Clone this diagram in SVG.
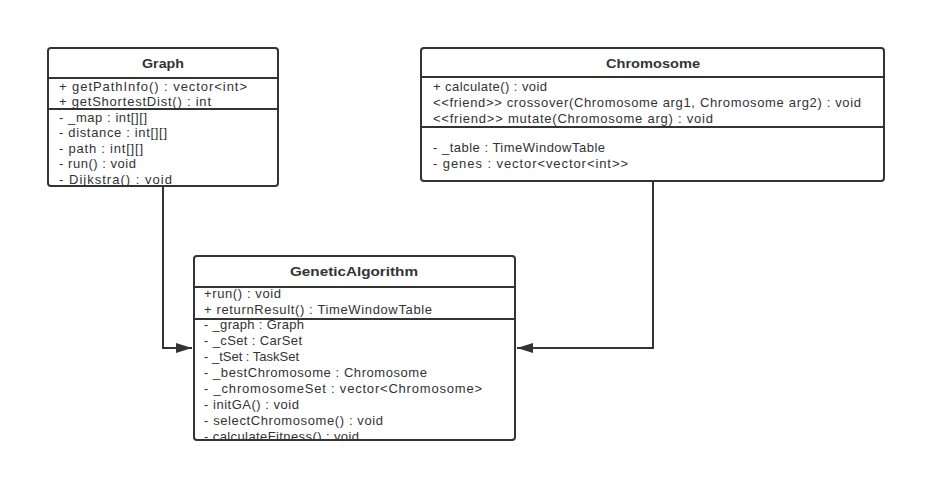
<svg xmlns="http://www.w3.org/2000/svg" width="945" height="503" viewBox="0 0 945 503">
<style>
.box{fill:#fff;stroke:#333;stroke-width:2}
.sep{stroke:#333;stroke-width:2}
.t{font-family:"Liberation Sans",Arial,sans-serif;font-size:13px;fill:#333}
.h{font-family:"Liberation Sans",Arial,sans-serif;font-size:13px;font-weight:bold;fill:#333}
.c{fill:none;stroke:#333;stroke-width:2}
</style>
<defs>
<marker id="arr" markerWidth="16" markerHeight="10" refX="16" refY="5" orient="auto" markerUnits="userSpaceOnUse">
<path d="M0,0 L16,5 L0,10 Z" fill="#333"/>
</marker>
<clipPath id="cg"><rect x="48" y="48" width="230" height="137"/></clipPath>
<clipPath id="cga"><rect x="194" y="256" width="321" height="183"/></clipPath>
</defs>
<rect width="945" height="503" fill="#fff"/>
<g id="connectors">
<path class="c" d="M163,186 V348 H192" marker-end="url(#arr)"/>
<path class="c" d="M653,181 V348 H517" marker-end="url(#arr)"/>
</g>
<g id="graph">
<rect class="box" x="48" y="48" width="230" height="138" rx="3"/>
<line class="sep" x1="48" y1="78" x2="278" y2="78"/>
<line class="sep" x1="48" y1="109" x2="278" y2="109"/>
<text class="h" x="142" y="68" textLength="42" lengthAdjust="spacingAndGlyphs">Graph</text>
<g clip-path="url(#cg)">
<text class="t" x="59" y="91" textLength="188">+ getPathInfo() : vector&lt;int&gt;</text>
<text class="t" x="59" y="106" textLength="152">+ getShortestDist() : int</text>
<text class="t" x="59" y="122" textLength="88">- _map : int[][]</text>
<text class="t" x="59" y="137" textLength="108">- distance : int[][]</text>
<text class="t" x="59" y="153" textLength="84">- path : int[][]</text>
<text class="t" x="59" y="168" textLength="77">- run() : void</text>
<text class="t" x="59" y="184" textLength="113">- Dijkstra() : void</text>
</g>
</g>
<g id="chromosome">
<rect class="box" x="421" y="48" width="463" height="133" rx="3"/>
<line class="sep" x1="421" y1="77" x2="884" y2="77"/>
<line class="sep" x1="421" y1="127" x2="884" y2="127"/>
<text class="h" x="606" y="68" textLength="94" lengthAdjust="spacingAndGlyphs">Chromosome</text>
<text class="t" x="433" y="91" textLength="114">+ calculate() : void</text>
<text class="t" x="433" y="107" textLength="428">&lt;&lt;friend&gt;&gt; crossover(Chromosome arg1, Chromosome arg2) : void</text>
<text class="t" x="433" y="123" textLength="280">&lt;&lt;friend&gt;&gt; mutate(Chromosome arg) : void</text>
<text class="t" x="433" y="152" textLength="172">- _table : TimeWindowTable</text>
<text class="t" x="433" y="168" textLength="195">- genes : vector&lt;vector&lt;int&gt;&gt;</text>
</g>
<g id="geneticalgorithm">
<rect class="box" x="194" y="256" width="321" height="184" rx="3"/>
<line class="sep" x1="194" y1="287" x2="515" y2="287"/>
<line class="sep" x1="194" y1="319" x2="515" y2="319"/>
<text class="h" x="290" y="276" textLength="128" lengthAdjust="spacingAndGlyphs">GeneticAlgorithm</text>
<g clip-path="url(#cga)">
<text class="t" x="204" y="298" textLength="77">+run() : void</text>
<text class="t" x="204" y="314" textLength="228">+ returnResult() : TimeWindowTable</text>
<text class="t" x="204" y="329" textLength="100">- _graph : Graph</text>
<text class="t" x="204" y="345" textLength="98">- _cSet : CarSet</text>
<text class="t" x="204" y="361" textLength="95">- _tSet : TaskSet</text>
<text class="t" x="204" y="377" textLength="223">- _bestChromosome : Chromosome</text>
<text class="t" x="204" y="393" textLength="278">- _chromosomeSet : vector&lt;Chromosome&gt;</text>
<text class="t" x="204" y="409" textLength="95">- initGA() : void</text>
<text class="t" x="204" y="425" textLength="179">- selectChromosome() : void</text>
<text class="t" x="204" y="441" textLength="155">- calculateFitness() : void</text>
</g>
</g>
</svg>
